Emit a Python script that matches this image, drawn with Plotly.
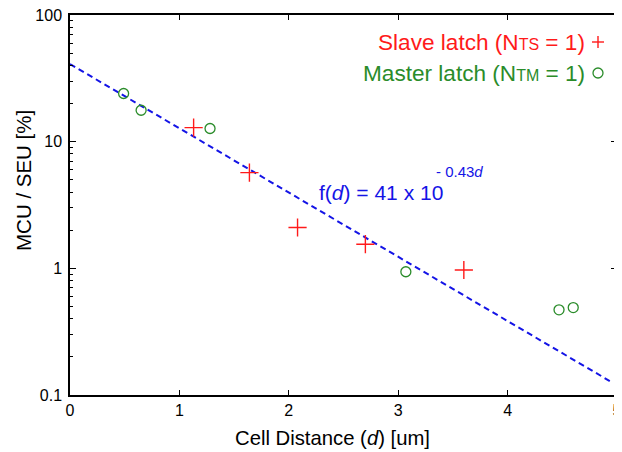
import plotly.graph_objects as go

# slave latch (red +) and master latch (green o) MCU/SEU ratios vs cell distance
slave_d = [1.13, 1.64, 2.08, 2.70, 3.60]
slave_ratio = [12.9, 5.7, 2.1, 1.55, 0.97]

master_d = [0.49, 0.65, 1.28, 3.07, 4.47, 4.60]
master_ratio = [24.0, 17.7, 12.7, 0.94, 0.47, 0.49]

# fitted line end points, as drawn
fit_d = [0.0, 4.96]
fit_ratio = [41.0, 0.125]

# minor ticks on the log axis
minor_vals = [m * 10.0 ** k for k in (-1, 0, 1) for m in range(2, 10)]

RED = "#ff1a1a"
GREEN = "#2a8c2a"
BLUE = "#1414e6"
FONT = "Liberation Sans, Arial, sans-serif"

fig = go.Figure()

fig.add_trace(go.Scatter(x=fit_d, y=fit_ratio, mode="lines",
                         line=dict(color=BLUE, width=2, dash="6px,4px"),
                         showlegend=False))
fig.add_trace(go.Scatter(x=slave_d, y=slave_ratio, mode="markers",
                         marker=dict(symbol="cross-thin", size=13, color=RED,
                                     line=dict(color=RED, width=1.4)),
                         showlegend=False))
fig.add_trace(go.Scatter(x=master_d, y=master_ratio, mode="markers",
                         marker=dict(symbol="circle-open", size=10, color=GREEN,
                                     line=dict(color=GREEN, width=1.3)),
                         showlegend=False))

# page has an 8px body margin, so the plot box (window px 70..617, 15..395)
# sits at 62..609 / 7..387 inside the figure
def px_x(p):
    return (p - 70) / 547.0

def px_y(p):
    return (395 - p) / 380.0

# legend built by hand: text first, symbol on the right
fig.add_annotation(x=px_x(587), y=px_y(42), xref="paper", yref="paper",
                   xanchor="right", yanchor="middle", showarrow=False,
                   text="Slave latch (N<span style='font-size:16px'>TS</span> = 1)",
                   font=dict(size=22.6, color=RED, family=FONT))
fig.add_annotation(x=px_x(587), y=px_y(73), xref="paper", yref="paper",
                   xanchor="right", yanchor="middle", showarrow=False,
                   text="Master latch (N<span style='font-size:16px'>TM</span> = 1)",
                   font=dict(size=22.6, color=GREEN, family=FONT))
# legend keys
fig.add_shape(type="line", xref="paper", yref="paper", xsizemode="pixel", ysizemode="pixel",
              xanchor=px_x(598), yanchor=px_y(42), x0=-6, x1=6, y0=0, y1=0,
              line=dict(color=RED, width=1.4))
fig.add_shape(type="line", xref="paper", yref="paper", xsizemode="pixel", ysizemode="pixel",
              xanchor=px_x(598), yanchor=px_y(42), x0=0, x1=0, y0=-6, y1=6,
              line=dict(color=RED, width=1.4))
fig.add_shape(type="circle", xref="paper", yref="paper", xsizemode="pixel", ysizemode="pixel",
              xanchor=px_x(598), yanchor=px_y(73), x0=-5, x1=5, y0=-5, y1=5,
              line=dict(color=GREEN, width=1.3))

# fit equation
fig.add_annotation(x=px_x(381), y=px_y(192), xref="paper", yref="paper",
                   xanchor="center", yanchor="middle", showarrow=False,
                   text="f(<i>d</i>) = 41 x 10",
                   font=dict(size=21, color=BLUE, family=FONT))
fig.add_annotation(x=px_x(459), y=px_y(171), xref="paper", yref="paper",
                   xanchor="center", yanchor="middle", showarrow=False,
                   text="- 0.43<i>d</i>",
                   font=dict(size=15, color=BLUE, family=FONT))

# axis titles
fig.add_annotation(x=px_x(332), y=px_y(438), xref="paper", yref="paper",
                   xanchor="center", yanchor="middle", showarrow=False,
                   text="Cell Distance (<i>d</i>) [um]",
                   font=dict(size=20.3, color="black", family=FONT))
fig.add_annotation(x=px_x(23), y=px_y(181), xref="paper", yref="paper",
                   xanchor="center", yanchor="middle", showarrow=False, textangle=-90,
                   text="MCU / SEU [%]",
                   font=dict(size=20.5, color="black", family=FONT))

fig.update_layout(
    width=614, height=444,
    margin=dict(l=62, r=5, t=7, b=57),
    plot_bgcolor="white", paper_bgcolor="white",
    font=dict(family=FONT, color="black", size=16),
)
fig.update_xaxes(range=[0, 5], dtick=1, tick0=0, showgrid=False, zeroline=False,
                 automargin=False, ticklabeloverflow="allow",
                 showline=True, linecolor="black", linewidth=1.5, mirror="ticks",
                 ticks="inside", ticklen=5, tickcolor="black")
fig.update_yaxes(type="log", range=[-1, 2], dtick=1, showgrid=False, zeroline=False,
                 automargin=False, ticklabelstandoff=3, ticklabeloverflow="allow",
                 showline=True, linecolor="black", linewidth=1.5, mirror="ticks",
                 ticks="inside", ticklen=6, tickcolor="black",
                 minor=dict(tickmode="array", tickvals=minor_vals, ticks="inside",
                            ticklen=3, tickcolor="black", showgrid=False))

fig.write_html("out.html")
